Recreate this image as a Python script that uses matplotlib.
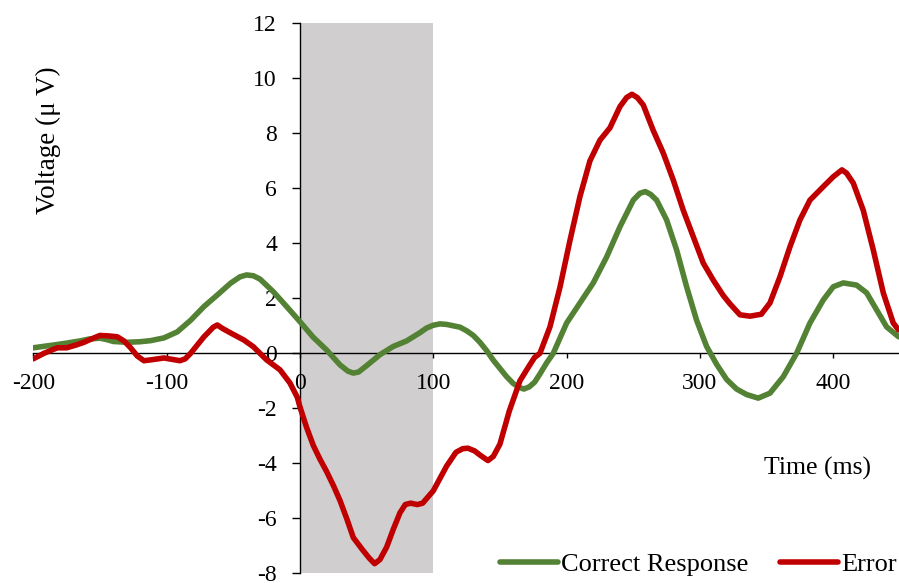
import matplotlib
matplotlib.use('Agg')
import matplotlib.pyplot as plt
from matplotlib.lines import Line2D

plt.rcParams['font.family'] = ['Liberation Serif', 'DejaVu Serif']

# ERP grand averages (time in ms, amplitude in microvolts)
CORRECT_T = [-200, -185, -175, -165, -158, -150, -145, -140, -130, -120, -112,
             -102, -92, -82, -72, -62, -52, -45, -40, -35, -30, -20, -10, 0, 10,
             20, 30, 36, 40, 44, 50, 60, 70, 80, 90, 95, 100, 105, 110, 120, 125,
             130, 135, 140, 145, 150, 155, 160, 165, 168, 172, 176, 180, 185, 190,
             200, 210, 220, 230, 240, 250, 255, 259, 263, 267.5, 275, 282.5, 290,
             297.5, 305, 312.5, 320, 327.5, 335, 343.7, 352.5, 362.5, 372.5, 382.5,
             392.5, 400, 407.5, 417.5, 425, 432.5, 440, 449]
CORRECT_V = [0.2, 0.3, 0.37, 0.45, 0.52, 0.55, 0.5, 0.43, 0.4, 0.42, 0.46,
             0.56, 0.78, 1.2, 1.7, 2.12, 2.55, 2.78, 2.85, 2.82, 2.7, 2.24, 1.7,
             1.15, 0.58, 0.12, -0.42, -0.65, -0.72, -0.68, -0.45, -0.05, 0.25,
             0.45, 0.75, 0.92, 1.02, 1.07, 1.05, 0.95, 0.82, 0.65, 0.4, 0.1, -0.25,
             -0.55, -0.85, -1.1, -1.25, -1.3, -1.22, -1.05, -0.75, -0.35, 0.0, 1.1,
             1.83, 2.56, 3.5, 4.6, 5.57, 5.82, 5.88, 5.78, 5.57, 4.85, 3.76, 2.42,
             1.2, 0.25, -0.4, -0.95, -1.3, -1.5, -1.63, -1.45, -0.85, 0.0, 1.1,
             1.94, 2.42, 2.56, 2.48, 2.2, 1.58, 0.96, 0.6]

ERROR_T = [-200, -192, -182, -175, -168, -162, -155, -150, -143, -137, -132,
           -127, -122, -117, -112, -102, -90, -86, -82, -72, -65, -62, -58, -52,
           -42, -35, -25, -15, -7.5, -2, 0, 5, 10, 15, 20, 25, 30, 35, 40, 47, 52,
           56, 60, 65, 70, 75, 79, 83, 88, 92, 100, 105, 110, 117, 122, 126, 131,
           135, 141, 145, 150, 157, 165, 172, 176, 180, 187.5, 195, 202.5, 210,
           217.5, 225, 232.5, 240, 245, 249, 253, 257.5, 265, 272.5, 280, 287.5,
           295, 302.5, 310, 317.5, 322.5, 330, 337.5, 346, 352.5, 360, 367.5, 375,
           382.5, 392.5, 400, 406.5, 410, 415, 422.5, 430, 437.5, 445, 449]
ERROR_V = [-0.2, 0.0, 0.2, 0.2, 0.3, 0.4, 0.55, 0.65, 0.63, 0.6, 0.45,
           0.2, -0.1, -0.27, -0.24, -0.17, -0.27, -0.2, 0.0, 0.6, 0.95, 1.03, 0.9,
           0.74, 0.48, 0.24, -0.24, -0.6, -1.08, -1.6, -1.95, -2.7, -3.35, -3.85,
           -4.3, -4.8, -5.35, -6.0, -6.7, -7.15, -7.45, -7.65, -7.5, -7.05, -6.4,
           -5.8, -5.5, -5.45, -5.5, -5.45, -5.0, -4.55, -4.1, -3.6, -3.47, -3.45,
           -3.55, -3.7, -3.9, -3.75, -3.3, -2.1, -1.0, -0.45, -0.15, 0.0, 0.96,
           2.4, 4.1, 5.7, 7.0, 7.75, 8.2, 8.97, 9.3, 9.42, 9.3, 9.03, 8.1, 7.28,
           6.3, 5.2, 4.24, 3.28, 2.66, 2.1, 1.8, 1.4, 1.35, 1.42, 1.83, 2.78, 3.87,
           4.85, 5.57, 6.06, 6.42, 6.67, 6.55, 6.19, 5.2, 3.76, 2.2, 1.1, 0.85]

WINDOW = (0, 100)  # shaded analysis window
Y_TICKS = list(range(-8, 13, 2))
X_TICKS = [-200, -100, 0, 100, 200, 300, 400]

GREEN = '#548235'
RED = '#c00000'
SHADE = '#d0cece'
LW = 4.0

fig = plt.figure(figsize=(8.99, 5.83), dpi=100)
ax = fig.add_axes([0.03704, 0.01664, 0.96296, 0.9434])

ax.axvspan(WINDOW[0], WINDOW[1], color=SHADE, lw=0, zorder=0)
ax.plot(CORRECT_T, CORRECT_V, color=GREEN, lw=LW, solid_joinstyle='round',
        solid_capstyle='round', zorder=3)
ax.plot(ERROR_T, ERROR_V, color=RED, lw=LW, solid_joinstyle='round',
        solid_capstyle='round', zorder=4)

ax.set_xlim(-200, 449.3)
ax.set_ylim(-8, 12)

# axes cross at the origin
ax.spines['left'].set_position(('data', 0))
ax.spines['bottom'].set_position(('data', 0))
ax.spines['top'].set_visible(False)
ax.spines['right'].set_visible(False)
for s in ('left', 'bottom'):
    ax.spines[s].set_linewidth(1.0)
    ax.spines[s].set_zorder(2)

ax.set_xticks(X_TICKS)
ax.set_yticks(Y_TICKS)
ax.set_xticklabels([str(t) for t in X_TICKS])
ax.set_yticklabels([str(t) for t in Y_TICKS])
ax.tick_params(axis='y', direction='out', length=5.5, width=1, pad=11, labelsize=17)
ax.tick_params(axis='x', direction='out', length=3.5, width=1, pad=11, labelsize=17)

ax.text(388, -4.17, 'Time (ms)', fontsize=18.5, ha='center', va='center')
fig.text(48 / 899, 1 - 140 / 583, 'Voltage (\u03bc V)', fontsize=19.5,
         rotation=90, ha='center', va='center')

handles = [Line2D([], [], color=GREEN, lw=LW, solid_capstyle='round'),
           Line2D([], [], color=RED, lw=LW, solid_capstyle='round')]
fig.legend(handles, ['Correct Response', 'Error'], loc='lower right',
           bbox_to_anchor=(1.0, 0.007), ncol=2, frameon=False, fontsize=19,
           handlelength=2.2, handletextpad=0.1, columnspacing=1.2,
           borderpad=0.1, borderaxespad=0.0)

fig.savefig('out.png', dpi=100)
